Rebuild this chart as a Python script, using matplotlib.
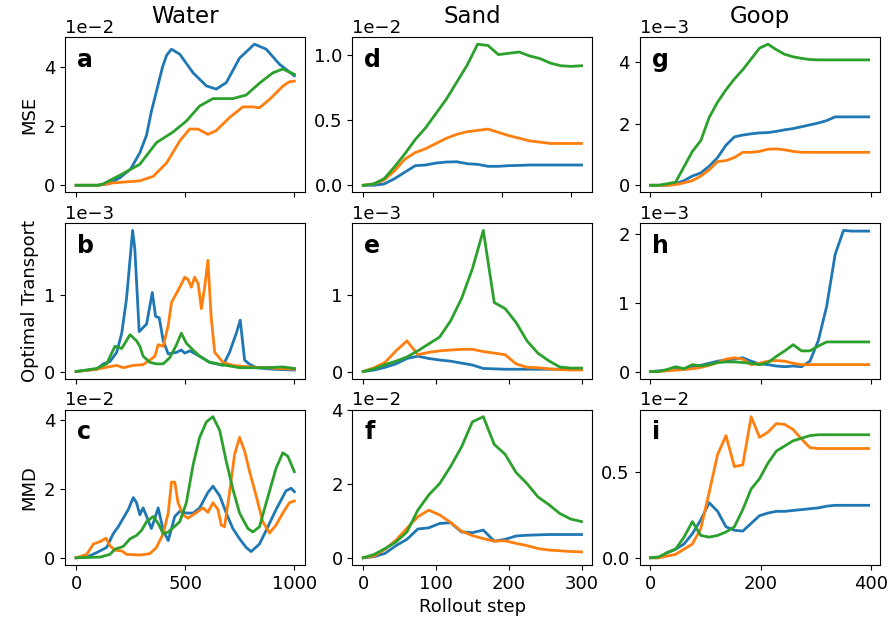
import numpy as np
import matplotlib
matplotlib.use('Agg')
import matplotlib.pyplot as plt
from matplotlib.ticker import MaxNLocator, ScalarFormatter

BLUE, ORANGE, GREEN = '#1f77b4', '#ff7f0e', '#2ca02c'

# ---- Water (values in 1e-2 / 1e-3 / 1e-2) ----
wa_blue_x = [0, 100, 150, 200, 250, 292, 323, 345, 369, 396, 415, 437, 475, 536, 597, 642, 688, 749, 817, 871, 932, 1000]
wa_blue_y = [0, 0, 0.05, 0.25, 0.55, 1.1, 1.7, 2.5, 3.2, 4.0, 4.4, 4.6, 4.43, 3.8, 3.36, 3.25, 3.47, 4.3, 4.77, 4.6, 4.09, 3.7]
wa_orange_x = [0, 100, 170, 292, 353, 414, 475, 520, 559, 604, 642, 703, 764, 810, 840, 886, 947, 977, 1000]
wa_orange_y = [0, 0, 0.08, 0.15, 0.3, 0.75, 1.5, 1.9, 1.9, 1.72, 1.85, 2.29, 2.65, 2.65, 2.62, 2.9, 3.35, 3.5, 3.52]
wa_green_x = [0, 100, 125, 216, 292, 368, 444, 505, 566, 627, 718, 779, 840, 901, 947, 1000]
wa_green_y = [0, 0, 0.05, 0.4, 0.71, 1.44, 1.8, 2.17, 2.68, 2.93, 2.93, 3.05, 3.45, 3.8, 3.93, 3.75]

wb_blue_x = [0, 94, 125, 155, 186, 209, 231, 259, 269, 289, 323, 349, 364, 381, 399, 422, 460, 482, 498, 521,
             566, 612, 673, 703, 734, 752, 772, 792, 825, 901, 1000]
wb_blue_y = [0, 0.03, 0.1, 0.13, 0.25, 0.5, 0.95, 1.84, 1.6, 0.52, 0.62, 1.03, 0.72, 0.7, 0.4, 0.23, 0.25, 0.28, 0.24, 0.27,
             0.2, 0.12, 0.08, 0.25, 0.5, 0.67, 0.15, 0.1, 0.05, 0.03, 0.02]
wb_orange_x = [0, 94, 186, 216, 262, 307, 338, 361, 376, 399, 422, 437, 475, 498, 513, 528, 543, 559, 574, 589,
               604, 619, 635, 673, 718, 795, 1000]
wb_orange_y = [0, 0.03, 0.08, 0.05, 0.08, 0.09, 0.15, 0.2, 0.35, 0.33, 0.6, 0.9, 1.1, 1.23, 1.2, 1.1, 1.23, 1.15, 0.82, 1.1,
               1.45, 0.7, 0.25, 0.12, 0.08, 0.06, 0.03]
wb_green_x = [0, 94, 140, 178, 209, 247, 277, 292, 307, 338, 368, 399, 429, 460, 482, 505, 536, 566, 612, 688,
              749, 871, 947, 1000]
wb_green_y = [0, 0.04, 0.1, 0.33, 0.3, 0.48, 0.4, 0.33, 0.2, 0.12, 0.1, 0.1, 0.18, 0.35, 0.5, 0.37, 0.28, 0.2, 0.12, 0.08,
              0.05, 0.05, 0.06, 0.04]

wc_blue_x = [0, 49, 94, 140, 170, 193, 216, 239, 262, 277, 292, 307, 323, 345, 361, 376, 399, 422, 452, 475,
             505, 536, 566, 604, 627, 658, 688, 718, 749, 779, 802, 840, 871, 916, 962, 985, 1000]
wc_blue_y = [0, 0.02, 0.15, 0.3, 0.7, 0.9, 1.15, 1.4, 1.75, 1.6, 1.25, 1.45, 1.2, 0.85, 1.15, 1.45, 0.8, 0.5, 1.2, 1.35,
             1.3, 1.3, 1.45, 1.9, 2.08, 1.8, 1.3, 0.85, 0.55, 0.3, 0.18, 0.4, 0.8, 1.4, 1.95, 2.02, 1.92]
wc_orange_x = [0, 49, 79, 110, 137, 155, 178, 209, 231, 292, 338, 368, 399, 422, 437, 452, 467, 490, 513, 536,
               559, 582, 604, 627, 650, 665, 680, 703, 726, 749, 772, 795, 825, 855, 886, 916, 947, 977, 1000]
wc_orange_y = [0, 0.1, 0.4, 0.47, 0.57, 0.35, 0.22, 0.2, 0.1, 0.08, 0.12, 0.3, 0.7, 1.3, 2.2, 2.2, 1.6, 1.25, 1.15, 1.25,
               1.35, 1.45, 1.32, 1.6, 1.4, 0.95, 0.9, 1.9, 3.0, 3.5, 3.1, 2.5, 1.8, 1.05, 0.72, 0.95, 1.3, 1.6, 1.65]
wc_green_x = [0, 110, 155, 178, 216, 247, 277, 300, 323, 353, 376, 399, 422, 444, 475, 505, 536, 566, 597, 627,
              658, 688, 718, 749, 787, 810, 840, 871, 916, 947, 970, 1000]
wc_green_y = [0, 0.02, 0.1, 0.25, 0.33, 0.55, 0.65, 0.8, 1.05, 1.2, 1.0, 0.7, 0.75, 0.87, 1.05, 1.6, 2.7, 3.5, 3.95, 4.1,
              3.7, 2.8, 2.0, 1.3, 0.85, 0.75, 0.9, 1.6, 2.6, 3.05, 2.95, 2.5]

# ---- Sand ----
sand_mse_x = list(range(0, 316, 15))
sd_blue = [0, 0, 0.01, 0.05, 0.1, 0.15, 0.155, 0.17, 0.178, 0.18, 0.165, 0.16, 0.145, 0.145, 0.15, 0.152,
           0.155, 0.155, 0.155, 0.155, 0.155, 0.155]
sd_orange = [0, 0.01, 0.04, 0.11, 0.2, 0.25, 0.28, 0.32, 0.36, 0.39, 0.41, 0.42, 0.43, 0.405, 0.38, 0.36,
             0.34, 0.33, 0.32, 0.32, 0.32, 0.32]
sd_green = [0, 0.01, 0.05, 0.14, 0.24, 0.35, 0.44, 0.55, 0.66, 0.79, 0.92, 1.08, 1.07, 1.0, 1.01, 1.02,
            0.99, 0.97, 0.935, 0.915, 0.91, 0.915]

sand_x = list(range(0, 301, 15))
se_blue = [0, 0.02, 0.055, 0.1, 0.17, 0.2, 0.17, 0.15, 0.135, 0.11, 0.085, 0.04, 0.035, 0.03, 0.03, 0.03,
           0.03, 0.03, 0.03, 0.03, 0.03]
se_orange = [0, 0.05, 0.12, 0.27, 0.4, 0.22, 0.25, 0.27, 0.28, 0.29, 0.29, 0.26, 0.24, 0.22, 0.1, 0.055,
             0.05, 0.035, 0.025, 0.02, 0.02]
se_green = [0, 0.035, 0.09, 0.135, 0.19, 0.27, 0.36, 0.45, 0.66, 0.95, 1.34, 1.84, 0.9, 0.82, 0.64, 0.4,
            0.24, 0.14, 0.06, 0.045, 0.045]

sf_blue = [0, 0.03, 0.12, 0.33, 0.5, 0.78, 0.81, 0.93, 0.95, 0.7, 0.68, 0.75, 0.45, 0.5, 0.59, 0.61,
           0.62, 0.63, 0.63, 0.63, 0.63]
sf_orange = [0, 0.05, 0.23, 0.48, 0.8, 1.11, 1.29, 1.16, 0.96, 0.72, 0.6, 0.52, 0.45, 0.46, 0.39, 0.33,
             0.25, 0.21, 0.19, 0.17, 0.16]
sf_green = [0, 0.09, 0.25, 0.43, 0.7, 1.29, 1.7, 2.01, 2.47, 3.0, 3.68, 3.82, 3.07, 2.8, 2.31, 2.01,
            1.65, 1.44, 1.2, 1.05, 0.98]

# ---- Goop ----
goop_x = np.linspace(0, 395, 27)
g_blue = [0, 0, 0, 0.05, 0.15, 0.3, 0.4, 0.62, 0.9, 1.3, 1.57, 1.63, 1.67, 1.7, 1.71, 1.75, 1.8, 1.84,
          1.9, 1.96, 2.02, 2.1, 2.22, 2.22, 2.22, 2.22, 2.22]
g_orange = [0, 0, 0, 0.02, 0.08, 0.15, 0.3, 0.5, 0.77, 0.8, 0.9, 1.07, 1.07, 1.1, 1.17, 1.18, 1.15, 1.1,
            1.07, 1.07, 1.07, 1.07, 1.07, 1.07, 1.07, 1.07, 1.07]
g_green = [0, 0, 0.05, 0.1, 0.6, 1.1, 1.45, 2.2, 2.7, 3.1, 3.45, 3.75, 4.1, 4.45, 4.58, 4.4, 4.25, 4.17,
           4.12, 4.08, 4.07, 4.07, 4.07, 4.07, 4.07, 4.07, 4.07]

h_blue = [0, 0.01, 0.02, 0.03, 0.04, 0.06, 0.09, 0.12, 0.15, 0.17, 0.18, 0.2, 0.15, 0.11, 0.1, 0.08, 0.07,
          0.08, 0.07, 0.15, 0.45, 0.95, 1.7, 2.05, 2.04, 2.04, 2.04]
h_orange = [0, 0, 0.01, 0.02, 0.03, 0.04, 0.06, 0.09, 0.13, 0.18, 0.2, 0.18, 0.1, 0.12, 0.15, 0.16, 0.15,
            0.12, 0.1, 0.1, 0.1, 0.1, 0.1, 0.1, 0.1, 0.1, 0.1]
h_green = [0, 0, 0.03, 0.07, 0.04, 0.1, 0.08, 0.1, 0.13, 0.14, 0.14, 0.13, 0.12, 0.1, 0.13, 0.22, 0.3,
           0.39, 0.3, 0.3, 0.37, 0.43, 0.43, 0.43, 0.43, 0.43, 0.43]

i_blue = [0, 0, 0.03, 0.05, 0.08, 0.14, 0.22, 0.32, 0.27, 0.18, 0.16, 0.155, 0.2, 0.245, 0.26, 0.27, 0.27,
          0.275, 0.28, 0.285, 0.29, 0.3, 0.305, 0.305, 0.305, 0.305, 0.305]
i_orange = [0, 0, 0.01, 0.02, 0.05, 0.08, 0.17, 0.38, 0.6, 0.71, 0.53, 0.54, 0.82, 0.7, 0.73, 0.78, 0.775,
            0.745, 0.69, 0.64, 0.635, 0.635, 0.635, 0.635, 0.635, 0.635, 0.635]
i_green = [0, 0.005, 0.03, 0.05, 0.12, 0.21, 0.13, 0.12, 0.13, 0.15, 0.18, 0.28, 0.4, 0.46, 0.55, 0.62, 0.65,
           0.68, 0.695, 0.71, 0.715, 0.715, 0.715, 0.715, 0.715, 0.715, 0.715]

col_titles = ['Water', 'Sand', 'Goop']
row_labels = ['MSE', 'Optimal Transport', 'MMD']
letters = ['a', 'd', 'g', 'b', 'e', 'h', 'c', 'f', 'i']

# ((x, y) for blue, orange, green), exponent -- row-major
panels = [
    [((wa_blue_x, wa_blue_y), (wa_orange_x, wa_orange_y), (wa_green_x, wa_green_y)), -2],
    [((sand_mse_x, sd_blue), (sand_mse_x, sd_orange), (sand_mse_x, sd_green)), -2],
    [((goop_x, g_blue), (goop_x, g_orange), (goop_x, g_green)), -3],
    [((wb_blue_x, wb_blue_y), (wb_orange_x, wb_orange_y), (wb_green_x, wb_green_y)), -3],
    [((sand_x, se_blue), (sand_x, se_orange), (sand_x, se_green)), -3],
    [((goop_x, h_blue), (goop_x, h_orange), (goop_x, h_green)), -3],
    [((wc_blue_x, wc_blue_y), (wc_orange_x, wc_orange_y), (wc_green_x, wc_green_y)), -2],
    [((sand_x, sf_blue), (sand_x, sf_orange), (sand_x, sf_green)), -2],
    [((goop_x, i_blue), (goop_x, i_orange), (goop_x, i_green)), -2],
]


class FixedOrderFormatter(ScalarFormatter):
    def __init__(self, order):
        self._order = order
        super().__init__(useOffset=False)

    def _set_order_of_magnitude(self):
        self.orderOfMagnitude = self._order


plt.rcParams['font.size'] = 13
fig, axes = plt.subplots(3, 3, figsize=(8.93, 6.29), dpi=100)
plt.subplots_adjust(left=0.073, right=0.985, top=0.941, bottom=0.102, wspace=0.196, hspace=0.2)

for k, (series, order) in enumerate(panels):
    ax = axes[k // 3, k % 3]
    for (x, y), c in zip(series, [BLUE, ORANGE, GREEN]):
        ax.plot(x, np.array(y) * 10.0 ** order, c=c, lw=2)
    ax.yaxis.set_major_locator(MaxNLocator(3, steps=[1, 2, 2.5, 5, 10]))
    ax.yaxis.set_major_formatter(FixedOrderFormatter(order))
    ax.text(0.05, 0.93, letters[k], transform=ax.transAxes, ha='left', va='top',
            fontsize=17, fontweight='bold')
    if k // 3 < 2:
        ax.tick_params(labelbottom=False)

for j in range(3):
    axes[0, j].set_title(col_titles[j], fontsize=16.5, pad=10)
    axes[j, 0].set_ylabel(row_labels[j])
axes[2, 1].set_xlabel('Rollout step')

plt.savefig('out.png')
